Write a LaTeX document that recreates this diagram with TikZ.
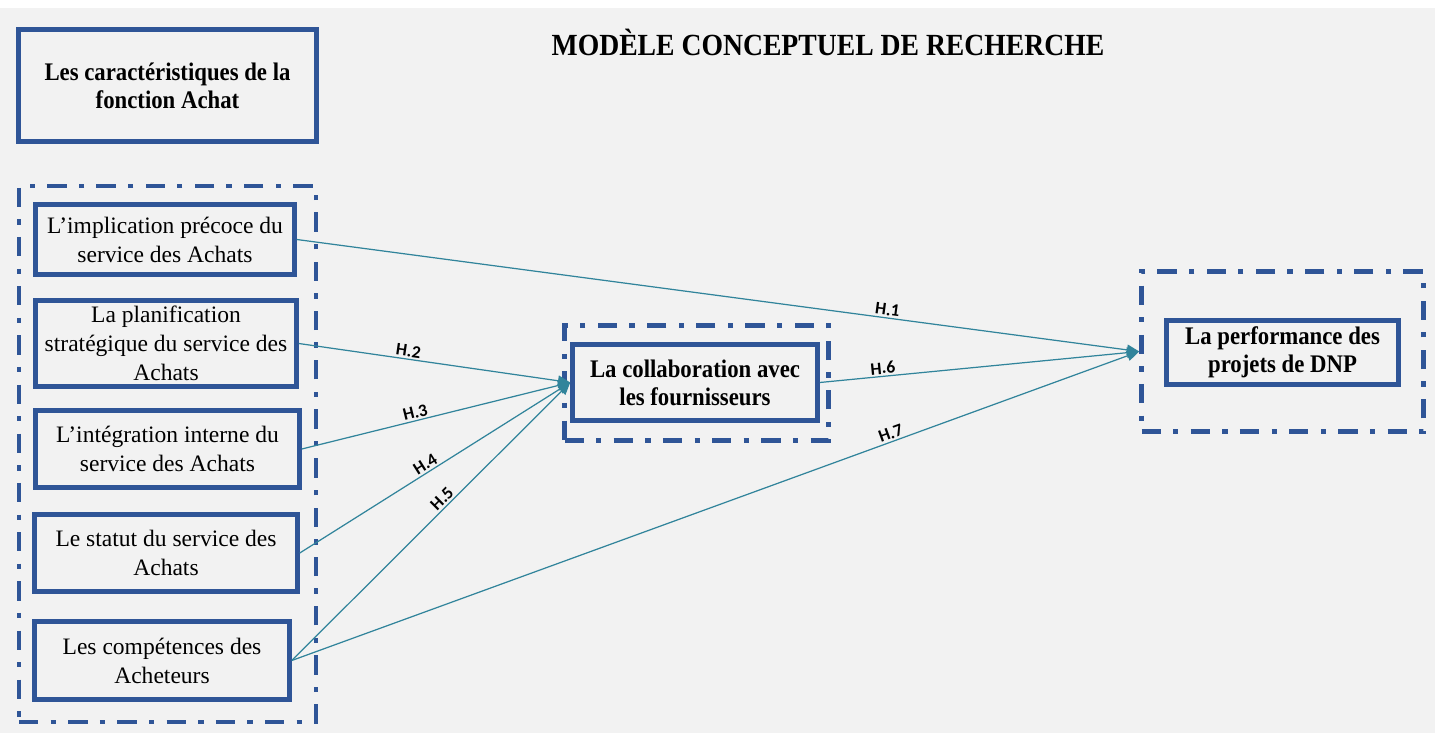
\documentclass[tikz,border=0pt]{standalone}
\usepackage{fontspec}
\setmainfont{Liberation Serif}
\newfontfamily\headfont[FakeStretch=0.9]{Liberation Serif}
\newfontfamily\hypfont{Carlito}
\usetikzlibrary{arrows.meta}
\definecolor{boxblue}{HTML}{2F5597}
\definecolor{arrowteal}{HTML}{31849B}
\definecolor{bggray}{HTML}{F2F2F2}

\begin{document}
\begin{tikzpicture}[x=0.02cm,y=-0.02cm,
        cause node/.style={draw=boxblue,line width=2.6pt,align=center,inner sep=2pt,
            font=\fontsize{13.4}{16.5}\selectfont},
        head node/.style={draw=boxblue,line width=2.6pt,align=center,inner sep=2pt,
            font=\headfont\bfseries\fontsize{14.4}{16}\selectfont},
        title node/.style={font=\headfont\bfseries\fontsize{17.5}{20}\selectfont},
        group box/.style={draw=boxblue,line width=2.6pt,
            dash pattern=on 11pt off 7pt on 3pt off 7pt},
        hyp edge/.style={draw=arrowteal,line width=0.7pt,-{Triangle[length=7pt,width=6pt]}},
        hyp label/.style={font=\hypfont\bfseries\fontsize{10}{12}\selectfont,
            sloped,above,inner sep=1pt,text=black}]

        % Background
        \useasboundingbox (0,0) rectangle (1435,733);
        \fill[white] (0,0) rectangle (1435,8);
        \fill[bggray] (0,8) rectangle (1435,733);

        % Define vertices
        \node[title node] (title) at (828,42) {MODÈLE CONCEPTUEL DE RECHERCHE};
        \node[head node,minimum width=5.96cm,minimum height=2.24cm] (achat) at (167.5,85.5)
            {Les caractéristiques de la\\fonction Achat};
        \node[group box,minimum width=5.94cm,minimum height=10.72cm] (achatgrp) at (167.5,454) {};

        \node[cause node,minimum width=5.18cm,minimum height=1.4cm] (impl) at (165,239.5)
            {L’implication précoce du\\service des Achats};
        \node[cause node,minimum width=5.22cm,minimum height=1.72cm] (plan) at (166,343.5)
            {La planification\\stratégique du service des\\Achats};
        \node[cause node,minimum width=5.28cm,minimum height=1.54cm] (integ) at (167.5,449)
            {L’intégration interne du\\service des Achats};
        \node[cause node,minimum width=5.26cm,minimum height=1.54cm] (statut) at (166,553)
            {Le statut du service des\\Achats};
        \node[cause node,minimum width=5.1cm,minimum height=1.56cm] (compet) at (162,660.5)
            {Les compétences des\\Acheteurs};

        \node[group box,minimum width=5.28cm,minimum height=2.3cm] (collabgrp) at (696.5,383) {};
        \node[head node,minimum width=4.9cm,minimum height=1.52cm] (collab) at (695,382.5)
            {La collaboration avec\\les fournisseurs};

        \node[group box,minimum width=5.64cm,minimum height=3.2cm] (perfgrp) at (1282.5,351.5) {};
        \node[head node,minimum width=4.64cm,minimum height=1.28cm] (perf) at (1282.5,352.5)
            {La performance des\\projets de DNP};

        % Draw edges
        \path[every edge/.style={hyp edge}]
            (impl.east) edge node[hyp label,pos=0.70] {H.1} (perfgrp.west)
            (plan.east) edge node[hyp label,pos=0.40] {H.2} (collab.west)
            (integ.east) edge node[hyp label,pos=0.43] {H.3} (collab.west)
            (statut.east) edge node[hyp label,pos=0.48] {H.4} (collab.west)
            (compet.east) edge node[hyp label,pos=0.56] {H.5} (collab.west)
            (collab.east) edge node[hyp label,pos=0.20] {H.6} (perfgrp.west)
            (compet.east) edge node[hyp label,pos=0.71] {H.7} (perfgrp.west);

\end{tikzpicture}
\end{document}
